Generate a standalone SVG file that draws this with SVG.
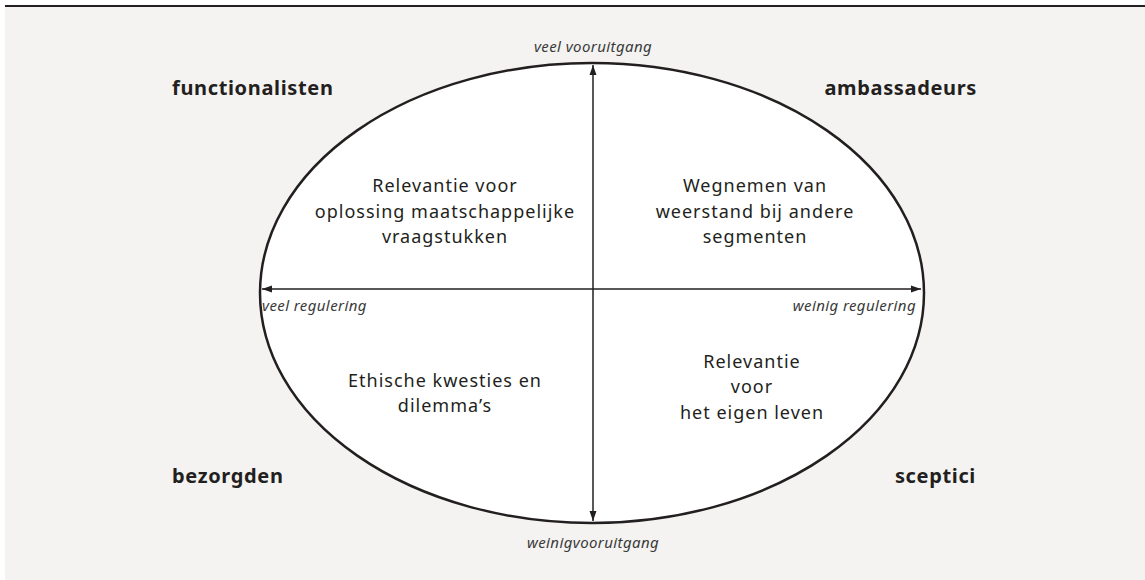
<svg xmlns="http://www.w3.org/2000/svg" width="1145" height="580" viewBox="0 0 1145 580">
<style>
.bg{fill:#f4f3f1}
.lbl{font-family:"Noto Sans",sans-serif;font-weight:bold;font-size:20px;letter-spacing:0.65px;fill:#231f20}
.txt{font-family:"Noto Sans",sans-serif;font-size:18px;letter-spacing:1px;fill:#231f20;text-anchor:middle}
.ax{font-family:"Noto Sans",sans-serif;font-style:italic;font-size:15px;letter-spacing:0.4px;fill:#3a3a3a}
.line{stroke:#231f20;stroke-width:1.5;fill:none}
</style>
<defs>
<marker id="ah" viewBox="0 0 10 10" refX="10" refY="5" markerWidth="10" markerHeight="10" markerUnits="userSpaceOnUse" orient="auto">
<path d="M0,1.5 L10,5 L0,8.5 Z" fill="#231f20"/>
</marker>
</defs>
<rect class="bg" x="5" y="5" width="1140" height="575"/>
<line x1="5" y1="6" x2="1145" y2="6" stroke="#231f20" stroke-width="2"/>
<g id="ellipse">
<ellipse cx="592" cy="293" rx="332" ry="230" fill="#ffffff" stroke="#231f20" stroke-width="2.5"/>
</g>
<g id="connectors">
<line class="line" x1="593" y1="289" x2="593" y2="65" marker-end="url(#ah)"/>
<line class="line" x1="593" y1="289" x2="593" y2="521" marker-end="url(#ah)"/>
<line class="line" x1="593" y1="289" x2="262" y2="289" marker-end="url(#ah)"/>
<line class="line" x1="593" y1="289" x2="921" y2="289" marker-end="url(#ah)"/>
</g>
<g id="axis-labels">
<text class="ax" x="593" y="52" text-anchor="middle">veel vooruitgang</text>
<text class="ax" x="262" y="311">veel regulering</text>
<text class="ax" x="916" y="311" text-anchor="end">weinig regulering</text>
<text class="ax" x="593" y="548" text-anchor="middle">weinigvooruitgang</text>
</g>
<g id="functionalisten"><text class="lbl" x="172" y="95">functionalisten</text></g>
<g id="ambassadeurs"><text class="lbl" x="977" y="95" text-anchor="end">ambassadeurs</text></g>
<g id="bezorgden"><text class="lbl" x="172" y="483">bezorgden</text></g>
<g id="sceptici"><text class="lbl" x="976" y="483" text-anchor="end">sceptici</text></g>
<g id="q1">
<text class="txt" x="445" y="192">Relevantie voor</text>
<text class="txt" x="445" y="218">oplossing maatschappelijke</text>
<text class="txt" x="445" y="243">vraagstukken</text>
</g>
<g id="q2">
<text class="txt" x="755" y="192">Wegnemen van</text>
<text class="txt" x="755" y="218">weerstand bij andere</text>
<text class="txt" x="755" y="243">segmenten</text>
</g>
<g id="q3">
<text class="txt" x="445" y="387">Ethische kwesties en</text>
<text class="txt" x="445" y="412">dilemma’s</text>
</g>
<g id="q4">
<text class="txt" x="752" y="368">Relevantie</text>
<text class="txt" x="752" y="393">voor</text>
<text class="txt" x="752" y="419">het eigen leven</text>
</g>
</svg>
